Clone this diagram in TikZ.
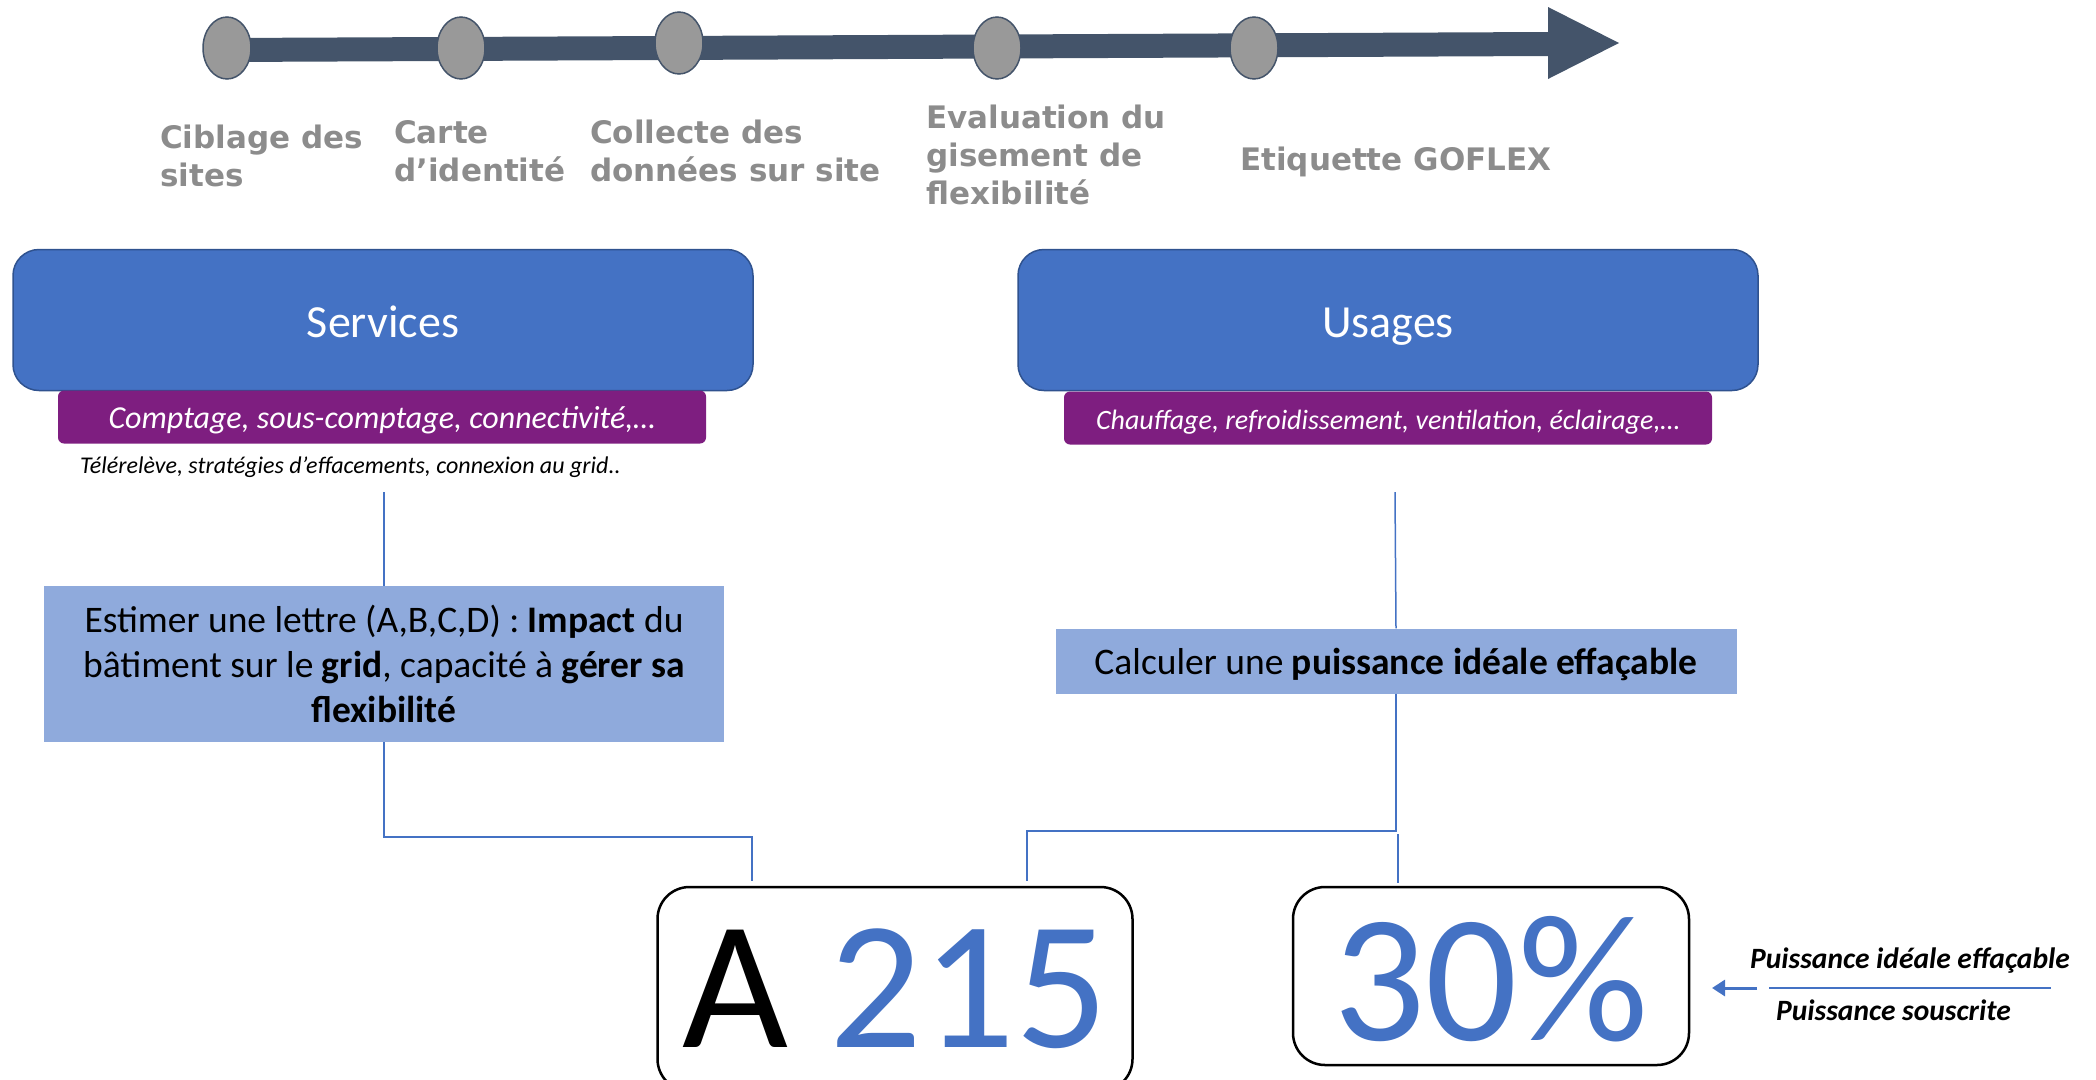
\documentclass[tikz,border=0pt]{standalone}
\usepackage{fontspec}
\setmainfont{Carlito}
\newfontfamily\stepfont{DejaVu Sans}
\usetikzlibrary{positioning,arrows.meta,shapes.geometric}
\definecolor{barblue}{RGB}{68,84,106}
\definecolor{dotgray}{RGB}{153,153,153}
\definecolor{labgray}{RGB}{140,140,140}
\definecolor{boxblue}{RGB}{68,114,196}
\definecolor{boxedge}{RGB}{47,82,143}
\definecolor{barpurple}{RGB}{126,30,128}
\definecolor{paleblue}{RGB}{143,170,220}
\tikzset{
  dot/.style={ellipse,draw=barblue,line width=1.5pt,fill=dotgray,
    minimum width=48pt,minimum height=62pt,inner sep=0pt},
  steplabel/.style={anchor=north west,align=left,inner sep=0pt,text=labgray,
    font=\stepfont\bfseries\fontsize{31}{38}\selectfont},
  headbox/.style={rectangle,rounded corners=26pt,draw=boxedge,line width=1.5pt,
    fill=boxblue,text=white,minimum width=740pt,minimum height=141pt,
    text height=34pt,text depth=0pt,font=\fontsize{46}{55}\selectfont},
  subbar/.style={rectangle,rounded corners=6pt,fill=barpurple,text=white,
    minimum height=53pt,text height=22pt,text depth=0pt,
    font=\itshape\fontsize{32}{38}\selectfont},
  taskbox/.style={rectangle,fill=paleblue,align=center,inner sep=0pt,
    font=\fontsize{37.5}{45}\selectfont},
  scorebox/.style={rectangle,rounded corners=32pt,draw=black,line width=2.5pt,
    fill=white,inner sep=0pt},
  scoretext/.style={inner sep=0pt,font=\fontsize{183}{183}\selectfont},
  link/.style={draw=boxblue,line width=1.5pt},
  ratiotext/.style={inner sep=0pt,anchor=base west,
    font=\bfseries\itshape\fontsize{29.5}{34}\selectfont}
}
\begin{document}
\begin{tikzpicture}[x=1pt,y=-1pt]
\useasboundingbox (0,0) rectangle (2096,1079);

%TIMELINE
\fill[barblue] (227,38) -- (1548,32) -- (1548,7) -- (1619,43)
  -- (1548,79) -- (1548,56) -- (227,62) -- cycle;
\node[dot] (dot1) at (227,48) {};
\node[dot] (dot2) at (461,48) {};
\node[dot] (dot3) at (679,43) {};
\node[dot] (dot4) at (997,48) {};
\node[dot] (dot5) at (1254,48) {};

\node[steplabel] (lab1) at (160,125) {Ciblage des\\sites};
\node[steplabel] (lab2) at (394,120) {Carte\\d’identité};
\node[steplabel] (lab3) at (590,120) {Collecte des\\données sur site};
\node[steplabel] (lab4) at (926,105) {Evaluation du\\gisement de\\flexibilité};
\node[steplabel] (lab5) at (1240,147) {Etiquette GOFLEX};

%SERVICES
\node[headbox] (services) at (383,320) {Services};
\node[subbar,minimum width=648pt] (servbar) at (382,417)
  {Comptage, sous-comptage, connectivité,…};
\node[inner sep=0pt,anchor=base west,font=\itshape\fontsize{24}{28}\selectfont]
  (tele) at (80,473) {Télérelève, stratégies d’effacements, connexion au grid..};

%USAGES
\node[headbox] (usages) at (1388,320) {Usages};
\node[subbar,minimum width=648pt,font=\itshape\fontsize{28}{34}\selectfont]
  (usebar) at (1388,418) {Chauffage, refroidissement, ventilation, éclairage,…};

%TASKS
\node[taskbox,minimum width=680pt,minimum height=156pt] (estimer) at (384,664)
  {Estimer une lettre (A,B,C,D) : \textbf{Impact} du\\
   bâtiment sur le \textbf{grid}, capacité à \textbf{gérer sa}\\
   \textbf{flexibilité}};
\node[taskbox,minimum width=681pt,minimum height=65pt,text height=26pt,
  text depth=0pt] (calc) at (1396,661)
  {Calculer une \textbf{puissance idéale effaçable}};

%SCORES
\node[scorebox,minimum width=475pt,minimum height=204pt] (score) at (895,989) {};
\node[scoretext] (scoreval) at (score.center) {A \textcolor{boxblue}{215}};
\node[scorebox,minimum width=396pt,minimum height=178pt] (pct) at (1491,976) {};
\node[scoretext,text=boxblue,font=\fontsize{182}{182}\selectfont]
  (pctval) at ([yshift=-3pt]pct.center) {30\%};

%RATIO
\node[ratiotext] (num) at (1750,968) {Puissance idéale effaçable};
\node[ratiotext] (den) at (1776,1020) {Puissance souscrite};
\coordinate (barleft) at (1769,988);
\coordinate (barright) at (2051,988);
\draw[boxblue,line width=1.5pt] (barleft) -- (barright);
\coordinate (ratiotip) at (1712,988);
\draw[boxblue,line width=3pt,-{Triangle[length=13pt,width=16pt]}]
  ([xshift=-12pt]barleft) -- (ratiotip);

%LINKS
\coordinate (servtop) at (384,492);
\coordinate (usetop) at (1395,492);
\coordinate (lknee) at (752,837);
\coordinate (rknee) at (1027,831);
\coordinate (pctjoin) at (1398,834);
\draw[link] (servtop) -- (estimer.north);
\draw[link] (usetop) -- (calc.north);
\draw[link,shorten >=5pt] (estimer.south) |- (lknee) -- (lknee |- score.north);
\draw[link,shorten >=5pt] (calc.south) |- (rknee) -- (rknee |- score.north);
\draw[link,shorten >=3pt] (pctjoin) -- (pctjoin |- pct.north);
\end{tikzpicture}
\end{document}
